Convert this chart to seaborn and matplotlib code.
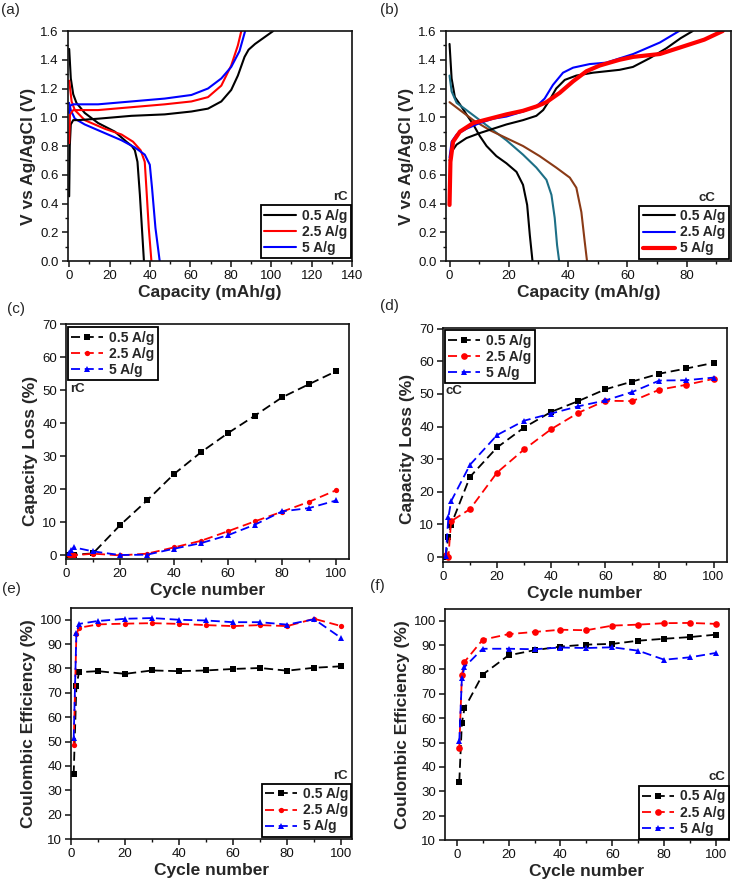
import numpy as np
import pandas as pd
import matplotlib
matplotlib.use("Agg")
import matplotlib.pyplot as plt
import seaborn as sns
from matplotlib.ticker import MultipleLocator, FormatStrFormatter

sns.set_theme(style="ticks")
plt.rcParams['font.family'] = ['Liberation Sans', 'DejaVu Sans']

# ---------------- data: panel (a) rC charge/discharge ----------------
a05_dis_x = [0, 0.3, 0.8, 2, 3.6, 7.7, 14.3, 22.6, 28.3, 31.0, 32.5, 33.8, 35.0, 36.0, 37.0]
a05_dis_v = [1.475, 1.40, 1.27, 1.16, 1.10, 1.03, 0.96, 0.90, 0.83, 0.80, 0.77, 0.69, 0.46, 0.23, 0.0]
a05_chg_x = [0, 0.3, 0.8, 2, 4.4, 14.3, 30.8, 47.3, 60.5, 68.7, 75.3, 80.2, 83.5, 86.8, 88.8, 92, 96, 101]
a05_chg_v = [0.45, 0.80, 0.95, 0.98, 0.98, 0.99, 1.01, 1.02, 1.04, 1.06, 1.11, 1.19, 1.29, 1.42, 1.47, 1.51, 1.55, 1.60]
a25_dis_x = [0, 1.2, 2.8, 7.7, 17.6, 25.9, 31.6, 35.4, 37.4, 38.2, 39.4, 40.7]
a25_dis_v = [1.255, 1.11, 1.05, 0.98, 0.92, 0.88, 0.83, 0.77, 0.69, 0.51, 0.23, 0.0]
a25_chg_x = [0, 0.4, 2, 14.3, 30.8, 47.3, 60.5, 68.7, 75.3, 80.2, 83.5, 85.2]
a25_chg_v = [0.82, 1.02, 1.05, 1.05, 1.07, 1.09, 1.11, 1.14, 1.22, 1.36, 1.50, 1.60]
a5_dis_x = [0, 0.8, 2.8, 7.7, 17.6, 25.9, 32.5, 37.4, 39.9, 41.0, 42.7, 44.8]
a5_dis_v = [1.10, 1.05, 0.99, 0.95, 0.89, 0.84, 0.79, 0.74, 0.67, 0.51, 0.23, 0.0]
a5_chg_x = [0, 0.4, 2, 14.3, 30.8, 47.3, 60.5, 68.7, 75.3, 80.2, 84.3, 87.1]
a5_chg_v = [1.03, 1.08, 1.09, 1.09, 1.11, 1.13, 1.155, 1.20, 1.27, 1.35, 1.46, 1.60]

# ---------------- data: panel (b) cC charge/discharge ----------------
b05_dis_x = [0, 0.7, 1.8, 3.5, 5.7, 8, 10.2, 12.5, 15.8, 19.2, 22.6, 24.8, 26.2, 27.1, 28]
b05_dis_v = [1.51, 1.27, 1.14, 1.09, 1.02, 0.95, 0.87, 0.80, 0.73, 0.68, 0.62, 0.53, 0.39, 0.18, 0.0]
b05_chg_x = [0, 0.7, 2.4, 5.7, 10.2, 14.7, 19.2, 24.8, 29.3, 31.6, 33.8, 36, 38.9, 42.8, 48.4, 52.9, 57.4, 61.9, 67.5, 73.2, 78, 82.1]
b05_chg_v = [0.70, 0.76, 0.81, 0.855, 0.89, 0.92, 0.95, 0.98, 1.01, 1.05, 1.12, 1.20, 1.26, 1.29, 1.31, 1.32, 1.33, 1.35, 1.41, 1.48, 1.55, 1.60]
b25_dis_x = [0, 0.7, 2.4, 5.7, 10.2, 14.7, 19.2, 24.8, 29.3, 32.7, 34.4, 35.5, 36.3, 37]
b25_dis_v = [1.29, 1.18, 1.10, 1.05, 0.98, 0.91, 0.84, 0.74, 0.65, 0.565, 0.46, 0.30, 0.11, 0.0]
b25_chg_x = [0, 0.7, 2.4, 5.7, 10.2, 14.7, 19.2, 24.8, 29.3, 32.1, 34.9, 38.3, 41.7, 47.3, 52.9, 62, 71, 77.5]
b25_chg_v = [0.72, 0.83, 0.88, 0.92, 0.96, 0.99, 1.005, 1.04, 1.075, 1.13, 1.225, 1.31, 1.345, 1.37, 1.38, 1.44, 1.52, 1.60]
b5_dis_x = [0, 3.5, 8, 13.6, 19.2, 24.8, 30.4, 36, 40.6, 42.8, 44.5, 45.6, 46.4]
b5_dis_v = [1.105, 1.05, 0.98, 0.91, 0.855, 0.80, 0.73, 0.65, 0.58, 0.51, 0.34, 0.14, 0.0]
b5_chg_x = [0, 0.3, 1.2, 3.5, 8, 13.6, 19.2, 24.8, 29.3, 32.7, 37.2, 41.7, 46.2, 50.7, 57.4, 62, 71, 80, 86, 92.2]
b5_chg_v = [0.39, 0.69, 0.83, 0.90, 0.96, 0.99, 1.02, 1.045, 1.075, 1.105, 1.17, 1.25, 1.32, 1.36, 1.40, 1.42, 1.44, 1.50, 1.54, 1.60]

# ---------------- data: cycling panels ----------------
cycles = [1, 2, 3, 10, 20, 30, 40, 50, 60, 70, 80, 90, 100]
rates = ["0.5 A/g", "2.5 A/g", "5 A/g"]

c_loss_05 = [0, 0, 0.2, 0.6, 9.1, 16.6, 24.6, 31.2, 37.0, 42.3, 47.8, 51.8, 55.7]
c_loss_25 = [0, 0, 0, 0.5, 0, 0.5, 2.4, 4.4, 7.3, 10.3, 13.2, 16.2, 19.7]
c_loss_5 = [0.7, 1.7, 2.4, 1.2, 0.1, 0.2, 2.0, 3.7, 6.1, 9.3, 13.3, 14.3, 16.6]

d_loss_05 = [0, 6.3, 9.9, 24.6, 33.6, 39.7, 44.5, 47.8, 51.4, 53.8, 56.2, 57.8, 59.5]
d_loss_25 = [0.5, 0, 11.0, 14.7, 25.9, 33.0, 39.2, 44.2, 47.9, 47.8, 51.3, 52.8, 54.6]
d_loss_5 = [0.3, 12.2, 17.1, 28.3, 37.4, 41.8, 44.0, 46.2, 48.0, 50.6, 54.1, 54.2, 55.0]

e_ce_05 = [36.5, 73.0, 78.5, 78.9, 77.8, 79.2, 78.9, 79.2, 79.8, 80.2, 79.1, 80.3, 80.9]
e_ce_25 = [48.4, 94.0, 96.7, 98.1, 98.4, 98.6, 98.3, 97.8, 97.4, 97.8, 97.4, 100.4, 97.4]
e_ce_5 = [51.3, 94.5, 98.3, 99.5, 100.4, 100.7, 100.0, 99.7, 99.0, 99.0, 98.0, 100.2, 92.5]

f_ce_05 = [34.0, 58.1, 64.0, 77.9, 85.8, 87.9, 89.4, 90.2, 90.5, 91.8, 92.6, 93.3, 94.3]
f_ce_25 = [47.9, 77.6, 83.1, 92.2, 94.5, 95.4, 96.3, 96.1, 98.0, 98.4, 99.0, 99.1, 98.7]
f_ce_5 = [50.6, 76.5, 81.0, 88.5, 88.5, 88.3, 89.0, 88.8, 89.1, 87.7, 84.0, 85.0, 86.8]

# ---------------- styling ----------------
BLACK, RED, BLUE = "#000000", "#ff0000", "#0000ff"
TEAL, BROWN = "#1d6f86", "#8a3a16"
TICK_FS = 9.5
LAB_FS = 12.5
LEG_FS = 10

fig = plt.figure(figsize=(7.34, 8.86), dpi=100)


def style_axes(ax, xmaj, xmin, ymaj, ymin=None, yfmt=None):
    for s in ax.spines.values():
        s.set_linewidth(1.2)
        s.set_color("#111111")
        s.set_visible(True)
    ax.xaxis.set_major_locator(MultipleLocator(xmaj))
    ax.xaxis.set_minor_locator(MultipleLocator(xmin))
    ax.yaxis.set_major_locator(MultipleLocator(ymaj))
    if ymin:
        ax.yaxis.set_minor_locator(MultipleLocator(ymin))
    if yfmt:
        ax.yaxis.set_major_formatter(FormatStrFormatter(yfmt))
    ax.tick_params(which="major", direction="out", length=4.5, width=1.1,
                   labelsize=TICK_FS, pad=2, colors="#111111")
    ax.tick_params(which="minor", direction="out", length=2.5, width=1.0, colors="#111111")
    ax.tick_params(top=False, right=False, which="both")


def legend(ax, loc, anchor, handles=None):
    lg = ax.legend(handles=handles, loc=loc, bbox_to_anchor=anchor,
                   prop={"weight": "bold", "size": LEG_FS}, frameon=True, fancybox=False,
                   edgecolor="black", framealpha=1, borderaxespad=0, borderpad=0.25,
                   labelspacing=0.15, handlelength=2.3, handletextpad=0.4, numpoints=1)
    lg.get_frame().set_linewidth(1.3)
    return lg


def curve(ax, x, y, color, lw, label=None):
    sns.lineplot(x=x, y=y, ax=ax, sort=False, estimator=None, color=color,
                 linewidth=lw, label=label, legend=False)


# ---------------- (a) ----------------
axA = fig.add_axes([0.0926, 0.7054, 0.3870, 0.2596])
curve(axA, a05_dis_x, a05_dis_v, BLACK, 1.5)
curve(axA, a25_dis_x, a25_dis_v, RED, 1.5)
curve(axA, a5_dis_x, a5_dis_v, BLUE, 1.5)
curve(axA, a05_chg_x, a05_chg_v, BLACK, 1.5, rates[0])
curve(axA, a25_chg_x, a25_chg_v, RED, 1.5, rates[1])
curve(axA, a5_chg_x, a5_chg_v, BLUE, 1.5, rates[2])
axA.set_xlim(-0.6, 140)
axA.set_ylim(0, 1.6)
style_axes(axA, 20, 10, 0.2, 0.1, "%.1f")
axA.set_xlabel("Capacity (mAh/g)", fontsize=LAB_FS, fontweight="bold", labelpad=2)
axA.set_ylabel("V vs Ag/AgCl (V)", fontsize=LAB_FS, fontweight="bold", labelpad=3)
axA.yaxis.label.set_y(0.455)
hA = axA.get_lines()[3:6]
legend(axA, "lower right", (0.995, 0.012), hA)
axA.text(0.986, 0.28, "rC", transform=axA.transAxes, ha="right", va="center",
         fontsize=9.5, fontweight="bold")

# ---------------- (b) ----------------
axB = fig.add_axes([0.6076, 0.7054, 0.3883, 0.2596])
curve(axB, b05_dis_x, b05_dis_v, BLACK, 1.5)
curve(axB, b25_dis_x, b25_dis_v, TEAL, 1.5)
curve(axB, b5_dis_x, b5_dis_v, BROWN, 1.5)
curve(axB, b05_chg_x, b05_chg_v, BLACK, 1.5, rates[0])
curve(axB, b25_chg_x, b25_chg_v, BLUE, 1.5, rates[1])
curve(axB, b5_chg_x, b5_chg_v, RED, 3.0, rates[2])
axB.set_xlim(-1.2, 95)
axB.set_ylim(0, 1.6)
style_axes(axB, 20, 10, 0.2, 0.1, "%.1f")
axB.set_xlabel("Capacity (mAh/g)", fontsize=LAB_FS, fontweight="bold", labelpad=2)
axB.set_ylabel("V vs Ag/AgCl (V)", fontsize=LAB_FS, fontweight="bold", labelpad=3)
axB.yaxis.label.set_y(0.455)
hB = axB.get_lines()[3:6]
legend(axB, "lower right", (0.993, 0.009), hB)
axB.text(0.944, 0.275, "cC", transform=axB.transAxes, ha="right", va="center",
         fontsize=9.5, fontweight="bold")


# ---------------- cycling panels ----------------
def cycling(ax, s05, s25, s5, ms):
    df = pd.DataFrame({"cycle": cycles * 3,
                       "val": list(s05) + list(s25) + list(s5),
                       "rate": [rates[0]] * len(cycles) + [rates[1]] * len(cycles) + [rates[2]] * len(cycles)})
    for r, col, mk in zip(rates, [BLACK, RED, BLUE], ["s", "o", "^"]):
        sub = df[df["rate"] == r]
        sns.lineplot(data=sub, x="cycle", y="val", ax=ax, sort=False, estimator=None,
                     color=col, linewidth=1.3, linestyle=(0, (5, 2.6)), marker=mk,
                     markersize=ms, markeredgewidth=0, label=r, legend=False)


axC = fig.add_axes([0.0899, 0.3691, 0.3856, 0.2652])
cycling(axC, c_loss_05, c_loss_25, c_loss_5, 3.8)
axC.set_xlim(0, 104.8)
axC.set_ylim(-1.1, 70)
style_axes(axC, 20, 10, 10)
axC.set_xlabel("Cycle number", fontsize=LAB_FS, fontweight="bold", labelpad=2)
axC.set_ylabel("Capacity Loss (%)", fontsize=LAB_FS, fontweight="bold", labelpad=3)
axC.yaxis.label.set_y(0.46)
legend(axC, "upper left", (0.007, 0.987))
axC.text(0.014, 0.723, "rC", transform=axC.transAxes, ha="left", va="center",
         fontsize=9.5, fontweight="bold")

axD = fig.add_axes([0.6035, 0.3657, 0.3870, 0.2641])
cycling(axD, d_loss_05, d_loss_25, d_loss_5, 4.8)
axD.set_xlim(0, 105)
axD.set_ylim(-1.5, 70.2)
style_axes(axD, 20, 10, 10)
axD.set_xlabel("Cycle number", fontsize=LAB_FS, fontweight="bold", labelpad=2)
axD.set_ylabel("Capacity Loss (%)", fontsize=LAB_FS, fontweight="bold", labelpad=3)
axD.yaxis.label.set_y(0.483)
legend(axD, "upper left", (0.007, 0.991))
axD.text(0.01, 0.731, "cC", transform=axD.transAxes, ha="left", va="center",
         fontsize=9.5, fontweight="bold")

axE = fig.add_axes([0.0967, 0.0530, 0.3829, 0.2607])
cycling(axE, e_ce_05, e_ce_25, e_ce_5, 3.8)
axE.set_xlim(0, 104)
axE.set_ylim(10, 104.8)
style_axes(axE, 20, 10, 10)
axE.set_xlabel("Cycle number", fontsize=LAB_FS, fontweight="bold", labelpad=2)
axE.set_ylabel("Coulombic Efficiency (%)", fontsize=LAB_FS, fontweight="bold", labelpad=3)
legend(axE, "lower right", (0.998, 0.009))
axE.text(0.986, 0.272, "rC", transform=axE.transAxes, ha="right", va="center",
         fontsize=9.5, fontweight="bold")

axF = fig.add_axes([0.6063, 0.0519, 0.3870, 0.2607])
cycling(axF, f_ce_05, f_ce_25, f_ce_5, 4.8)
axF.set_xlim(-4.5, 105)
axF.set_ylim(10, 104.8)
style_axes(axF, 20, 10, 10)
axF.set_xlabel("Cycle number", fontsize=LAB_FS, fontweight="bold", labelpad=2)
axF.set_ylabel("Coulombic Efficiency (%)", fontsize=LAB_FS, fontweight="bold", labelpad=3)
legend(axF, "lower right", (0.998, 0.004))
axF.text(0.986, 0.272, "cC", transform=axF.transAxes, ha="right", va="center",
         fontsize=9.5, fontweight="bold")

# panel letters
for lbl, x, y in [("(a)", 1, 3), ("(b)", 380, 3), ("(c)", 7, 302), ("(d)", 380, 299),
                  ("(e)", 2, 582), ("(f)", 370, 579)]:
    fig.text(x / 734, 1 - y / 886, lbl, ha="left", va="top", fontsize=11)

fig.savefig("out.png", dpi=100)
